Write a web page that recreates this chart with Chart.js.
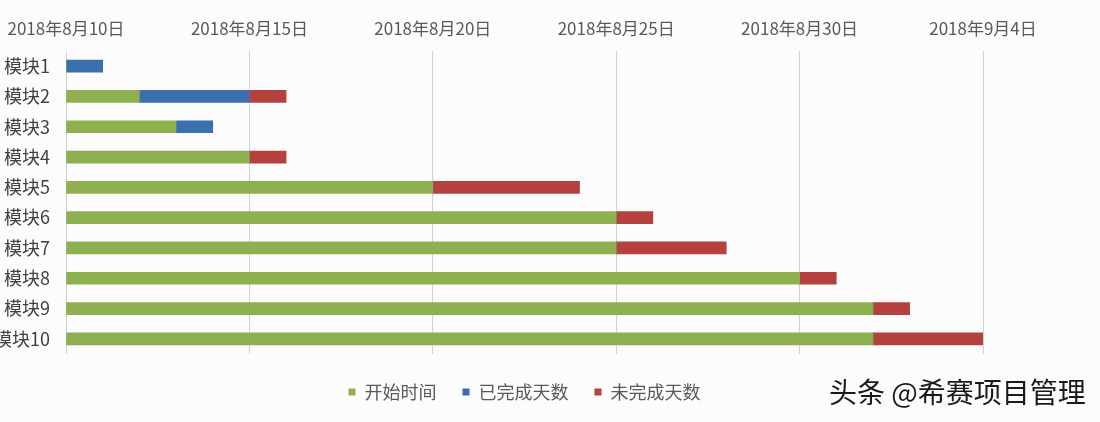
<!DOCTYPE html>
<html>
<head>
<meta charset="utf-8">
<script src="https://cdn.jsdelivr.net/npm/chart.js@4/dist/chart.umd.min.js"></script>
<style>
  html, body { margin: 0; padding: 0; background: #fcfcfc; }
  #wrap { position: relative; width: 1100px; height: 422px; }
  #ganttChart { display: block; }
  #mark {
    position: absolute; left: 829px; top: 371px;
    font-family: "Noto Sans CJK SC", sans-serif; font-size: 28px; color: #1a1a1a;
    white-space: nowrap;
  }
</style>
</head>
<body>
<div id="wrap">
  <canvas id="ganttChart" width="1100" height="422"></canvas>
  <div id="mark">头条 @希赛项目管理</div>
</div>
<script>
// Gantt chart data
const axisStart = '2018-08-10';
const modules = ['模块1', '模块2', '模块3', '模块4', '模块5', '模块6', '模块7', '模块8', '模块9', '模块10'];
const startDates = ['2018-08-10', '2018-08-12', '2018-08-13', '2018-08-15', '2018-08-20',
                    '2018-08-25', '2018-08-25', '2018-08-30', '2018-09-01', '2018-09-01'];
const doneDays = [1, 3, 1, 0, 0, 0, 0, 0, 0, 0];
const todoDays = [0, 1, 0, 1, 4, 1, 3, 1, 1, 3];
const tickLabels = ['2018年8月10日', '2018年8月15日', '2018年8月20日', '2018年8月25日', '2018年8月30日', '2018年9月4日'];
const seriesNames = ['开始时间', '已完成天数', '未完成天数'];

function daysFrom(base, d) {
  return Math.round((Date.parse(d) - Date.parse(base)) / 86400000);
}

function drawGanttChart() {
  const ctx = document.getElementById('ganttChart');
  if (!ctx) return;

  const colors = ['#8fb04e', '#3c6fae', '#b4413d'];
  const startOffsets = startDates.map(d => daysFrom(axisStart, d));
  const values = [startOffsets, doneDays, todoDays];

  const datasets = [];
  for (let i = 0; i < seriesNames.length; i++) {
    datasets.push({
      label: seriesNames[i],
      data: values[i],
      backgroundColor: colors[i],
      borderWidth: 0,
      barThickness: 12
    });
  }

  // keep legend centred under the plot area, a little lower
  const legendShift = {
    id: 'legendShift',
    afterLayout(chart) {
      const lg = chart.legend;
      if (!lg) return;
      lg.left = chart.chartArea.left;
      lg.right = chart.chartArea.right;
      lg.width = lg.right - lg.left;
      lg.top += 3;
      lg.bottom += 3;
    }
  };

  new Chart(ctx.getContext('2d'), {
    type: 'bar',
    data: { labels: modules, datasets: datasets },
    plugins: [legendShift],
    options: {
      indexAxis: 'y',
      responsive: false,
      animation: false,
      layout: { padding: { top: 0, left: 0, right: 117, bottom: 14 } },
      plugins: {
        title: { display: false },
        tooltip: { enabled: false },
        legend: {
          display: true,
          position: 'bottom',
          labels: {
            boxWidth: 7,
            boxHeight: 7,
            padding: 26,
            color: '#595959',
            font: { family: '"Noto Sans CJK SC", sans-serif', size: 18 }
          }
        }
      },
      scales: {
        x: {
          position: 'top',
          stacked: true,
          min: 0,
          max: 25,
          afterFit(scale) { scale.height = 51; },
          ticks: {
            stepSize: 5,
            padding: 0,
            color: '#595959',
            font: { family: '"Noto Sans CJK SC", sans-serif', size: 17 },
            maxRotation: 0,
            callback: (v, i) => tickLabels[i]
          },
          grid: { color: '#d0d0d0', lineWidth: 1, drawTicks: true, tickLength: 12, tickColor: 'rgba(0,0,0,0)' },
          border: { display: false }
        },
        y: {
          stacked: true,
          afterFit(scale) { scale.width = 66; },
          ticks: {
            padding: 8,
            color: '#404040',
            font: { family: '"Noto Sans CJK SC", sans-serif', size: 18 }
          },
          grid: { display: false },
          border: { display: false }
        }
      }
    }
  });
}

drawGanttChart();
</script>
</body>
</html>
